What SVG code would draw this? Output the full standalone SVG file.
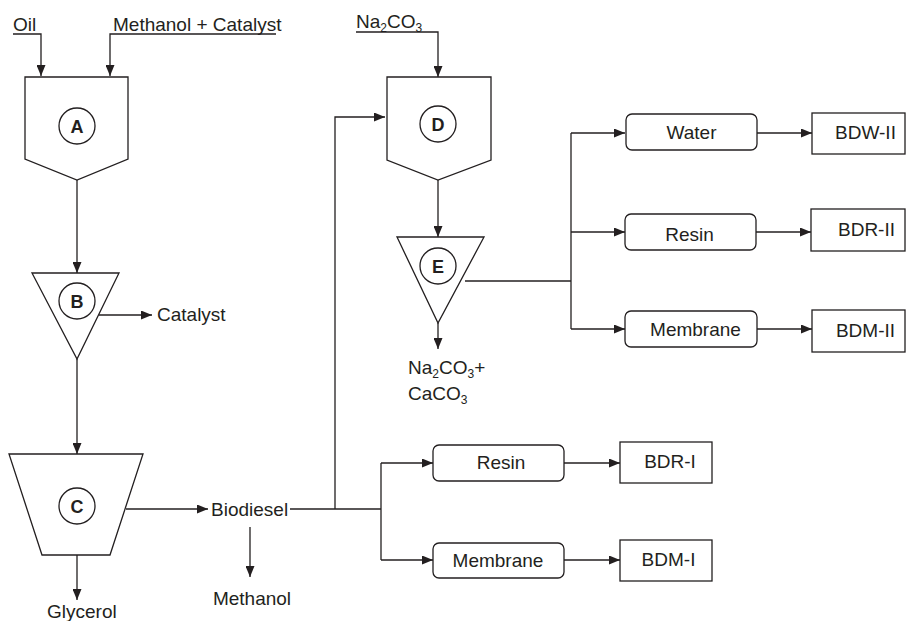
<svg xmlns="http://www.w3.org/2000/svg" width="906" height="621" viewBox="0 0 906 621">
<style>
.s{fill:#fff;stroke:#231f20;stroke-width:1.3}
.c{fill:none;stroke:#231f20;stroke-width:1.3}
.t{font-family:"Liberation Sans",Arial,sans-serif;font-size:19px;fill:#231f20}
.m{text-anchor:middle}
.b{font-family:"Liberation Sans",Arial,sans-serif;font-size:18px;font-weight:bold;fill:#231f20;text-anchor:middle}
.sub{font-size:12px}
</style>
<defs>
<marker id="ah" viewBox="0 0 11 9" refX="11" refY="4.5" markerWidth="11" markerHeight="9" markerUnits="userSpaceOnUse" orient="auto"><path d="M0,0 L11,4.5 L0,9 z" fill="#231f20"/></marker>
</defs>
<rect width="906" height="621" fill="#fff"/>
<g id="connectors" class="c">
<path d="M13,34 H41 V76" marker-end="url(#ah)"/>
<path d="M276,34 H110 V76" marker-end="url(#ah)"/>
<path d="M77,180 V273" marker-end="url(#ah)"/>
<path d="M99,315 H152" marker-end="url(#ah)"/>
<path d="M77,359 V454" marker-end="url(#ah)"/>
<path d="M77,555 V600" marker-end="url(#ah)"/>
<path d="M126,509 H208" marker-end="url(#ah)"/>
<path d="M290,509 H381"/>
<path d="M335,509 V117 H385" marker-end="url(#ah)"/>
<path d="M250,527 V577" marker-end="url(#ah)"/>
<path d="M381,463 V560"/>
<path d="M381,463 H433" marker-end="url(#ah)"/>
<path d="M381,560 H433" marker-end="url(#ah)"/>
<path d="M564,463 H620" marker-end="url(#ah)"/>
<path d="M564,560 H620" marker-end="url(#ah)"/>
<path d="M356,32 H438 V77" marker-end="url(#ah)"/>
<path d="M438,180 V237" marker-end="url(#ah)"/>
<path d="M438,323 V349" marker-end="url(#ah)"/>
<path d="M465,281 H571"/>
<path d="M571,133 V329"/>
<path d="M571,133 H625" marker-end="url(#ah)"/>
<path d="M571,232 H625" marker-end="url(#ah)"/>
<path d="M571,329 H625" marker-end="url(#ah)"/>
<path d="M757,133 H812" marker-end="url(#ah)"/>
<path d="M756,232 H811" marker-end="url(#ah)"/>
<path d="M757,329 H812" marker-end="url(#ah)"/>
</g>
<g id="labels">
<text class="t" x="13" y="31">Oil</text>
<text class="t" x="113" y="31">Methanol + Catalyst</text>
<text class="t" x="356" y="28">Na<tspan class="sub" dy="4">2</tspan><tspan dy="-4">CO</tspan><tspan class="sub" dy="4">3</tspan></text>
<text class="t" x="157" y="321">Catalyst</text>
<text class="t" x="211" y="516">Biodiesel</text>
<text class="t m" x="252" y="605">Methanol</text>
<text class="t" x="47" y="618">Glycerol</text>
<text class="t" x="408" y="374">Na<tspan class="sub" dy="4">2</tspan><tspan dy="-4">CO</tspan><tspan class="sub" dy="4">3</tspan><tspan dy="-4">+</tspan></text>
<text class="t" x="408" y="400">CaCO<tspan class="sub" dy="4">3</tspan></text>
</g>
<g id="A"><polygon class="s" points="25,77 128,77 128,159 77,180 25,159"/><circle class="s" cx="77" cy="126" r="18"/><text class="b" x="77" y="132.5">A</text></g>
<g id="B"><polygon class="s" points="32,273 119,273 77,359"/><circle class="s" cx="77" cy="301" r="18"/><text class="b" x="77" y="307.5">B</text></g>
<g id="C"><polygon class="s" points="9,454 143,454 110,555 42,555"/><circle class="s" cx="77" cy="506" r="18"/><text class="b" x="77" y="512.5">C</text></g>
<g id="D"><polygon class="s" points="387,77 491,77 491,160 438,180 387,160"/><circle class="s" cx="438" cy="124" r="18"/><text class="b" x="438" y="130.5">D</text></g>
<g id="E"><polygon class="s" points="397,237 484,237 438,323"/><circle class="s" cx="438" cy="266" r="18"/><text class="b" x="438" y="272.5">E</text></g>
<g id="resin1"><rect class="s" x="433" y="445" width="131" height="36" rx="6"/><text class="t m" x="501" y="469">Resin</text></g>
<g id="membrane1"><rect class="s" x="433" y="543" width="131" height="35" rx="6"/><text class="t m" x="498" y="567">Membrane</text></g>
<g id="bdr1"><rect class="s" x="620" y="442" width="92" height="41"/><text class="t m" x="670" y="468">BDR-I</text></g>
<g id="bdm1"><rect class="s" x="620" y="540" width="92" height="41"/><text class="t m" x="668.5" y="566">BDM-I</text></g>
<g id="water"><rect class="s" x="626" y="114" width="131" height="36" rx="6"/><text class="t m" x="691.5" y="139">Water</text></g>
<g id="resin2"><rect class="s" x="625" y="214" width="131" height="36" rx="6"/><text class="t m" x="689.5" y="241">Resin</text></g>
<g id="membrane2"><rect class="s" x="625" y="311" width="132" height="36" rx="6"/><text class="t m" x="695.5" y="336">Membrane</text></g>
<g id="bdw2"><rect class="s" x="812" y="113" width="93" height="41"/><text class="t m" x="865.5" y="139">BDW-II</text></g>
<g id="bdr2"><rect class="s" x="811" y="209" width="94" height="42"/><text class="t m" x="866.5" y="236">BDR-II</text></g>
<g id="bdm2"><rect class="s" x="812" y="310" width="93" height="42"/><text class="t m" x="865.5" y="337">BDM-II</text></g>
</svg>
